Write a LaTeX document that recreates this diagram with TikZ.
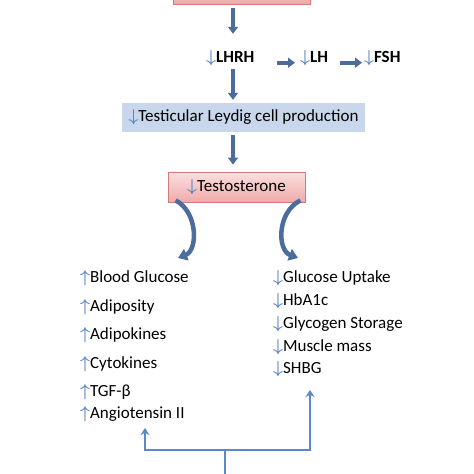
\documentclass[tikz,border=0pt]{standalone}
\usepackage{fontspec}
\setmainfont{Carlito}
\usepackage{xcolor}
\usepackage{tikz}
\usetikzlibrary{positioning,arrows.meta,calc}
\definecolor{cSteel}{HTML}{4D6C9E}
\definecolor{cBlueL}{HTML}{5A88C8}
\definecolor{cBandF}{HTML}{C8D7EC}
\definecolor{cPinkT}{HTML}{FBE0E0}
\definecolor{cPinkB}{HTML}{F0AAAA}
\definecolor{cRedB}{HTML}{D27A78}
\newcommand{\arrdn}{\textcolor{cBlueL}{\boldmath$\downarrow$}}
\newcommand{\arrup}{\textcolor{cBlueL}{\boldmath$\uparrow$}}

\begin{document}
\begin{tikzpicture}[x=1pt,y=-1pt,font=\fontsize{17}{20}\selectfont,
  pinkbox/.style={draw=cRedB,line width=0.8pt,top color=cPinkT,bottom color=cPinkB,
                  inner sep=0pt,minimum width=137pt},
  band/.style={fill=cBandF,inner sep=0pt,minimum width=243pt,minimum height=29pt},
  item/.style={anchor=base west,inner sep=0pt},
  ar/.style={-{Triangle[length=7pt,width=10pt]},line width=4pt,cSteel},
  curvear/.style={-{Triangle[length=9pt,width=12pt]},line width=4.5pt,cSteel},
  thinar/.style={-{Stealth[length=7pt,width=9pt]},line width=1.8pt,cBlueL}]
\useasboundingbox (0,0) rectangle (474,474);

\coordinate (axis) at (233,0);

\node[pinkbox,minimum height=30pt] (gnrh) at (241.5,-11) {};

\node[item] (lhrh) at (206,62) {\arrdn\textbf{LHRH}};
\node[item] (lh) at (300,62) {\arrdn\textbf{LH}};
\node[item] (fsh) at (364,62) {\arrdn\textbf{FSH}};

\node[band] (leydig) at (243.5,117.5) {\arrdn Testicular Leydig cell production};

\node[pinkbox,minimum height=30pt] (testo) at (236.5,187) {\arrdn Testosterone};

% left list
\node[item] (bglu) at (80,282) {\arrup Blood Glucose};
\node[item] (adipo) at (80,311) {\arrup Adiposity};
\node[item] (adipk) at (80,339) {\arrup Adipokines};
\node[item] (cyto) at (80,368) {\arrup Cytokines};
\node[item] (tgf) at (80,396) {\arrup TGF-β};
\node[item] (angio) at (80,418) {\arrup Angiotensin II};

% right list
\node[item] (gup) at (273,282) {\arrdn Glucose Uptake};
\node[item] (hba) at (273,305) {\arrdn HbA1c};
\node[item] (glyc) at (273,328) {\arrdn Glycogen Storage};
\node[item] (musc) at (273,351) {\arrdn Muscle mass};
\node[item] (shbg) at (273,373) {\arrdn SHBG};

\draw[ar] (axis |- gnrh.south) ++(0,4) -- ($(axis |- lhrh.north)+(0,-16)$);
\draw[ar,shorten <=22pt,shorten >=5pt] ([yshift=-5pt]lhrh.east) -- ([yshift=-5pt]lh.west);
\draw[ar,shorten <=12pt,shorten >=2pt] ([yshift=-5pt]lh.east) -- ([yshift=-5pt]fsh.west);
\draw[ar,shorten <=3pt,shorten >=3pt] (axis |- lhrh.south) -- (axis |- leydig.north);
\draw[ar,shorten <=3pt,shorten >=7pt] (axis |- leydig.south) -- (axis |- testo.north);

\coordinate (lcurve) at (178,258);
\coordinate (rcurve) at (298,258);
\draw[curvear] ([xshift=8pt,yshift=2pt]testo.south west) .. controls (198,212) and (198,250) .. (lcurve);
\draw[curvear] ([xshift=-5pt,yshift=2pt]testo.south east) .. controls (277,212) and (277,250) .. (rcurve);

\coordinate (root) at (225,480);
\coordinate (fork) at (225,450);
\coordinate (lend) at (145,428);
\coordinate (rend) at (310,390);
\draw[line width=1.8pt,cBlueL] (root) -- (fork);
\draw[thinar] (fork) -| (lend);
\draw[thinar] (fork) -| (rend);
\end{tikzpicture}
\end{document}
